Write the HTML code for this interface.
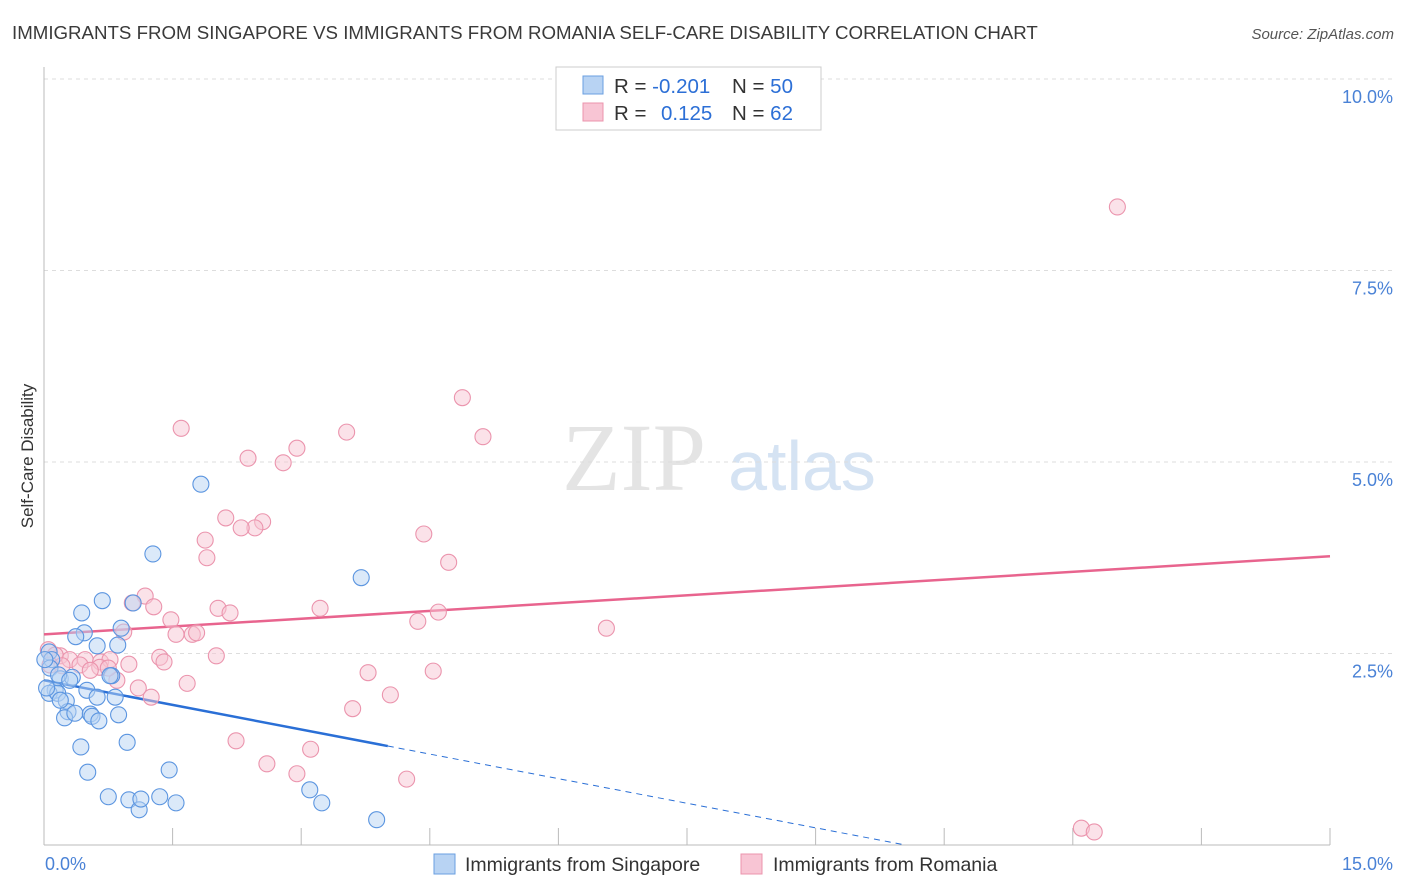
<!DOCTYPE html>
<html><head><meta charset="utf-8"><style>
body{margin:0;background:#fff;font-family:"Liberation Sans",sans-serif}
svg{display:block}
</style></head><body>
<svg id="chart" width="1406" height="892" xmlns="http://www.w3.org/2000/svg" font-family="Liberation Sans, sans-serif">
<text x="12" y="39" font-size="18.7" fill="#3a3a3a">IMMIGRANTS FROM SINGAPORE VS IMMIGRANTS FROM ROMANIA SELF-CARE DISABILITY CORRELATION CHART</text>
<text x="1394" y="39" font-size="15" fill="#555" text-anchor="end" font-style="italic">Source: ZipAtlas.com</text>
<text transform="translate(33,456) rotate(-90)" font-size="17" fill="#333" text-anchor="middle">Self-Care Disability</text>
<g>
<text x="634" y="490" font-size="96" font-family="Liberation Serif, serif" fill="#e4e4e4" text-anchor="middle">ZIP</text>
<text x="802" y="490" font-size="70" fill="#d5e3f3" text-anchor="middle">atlas</text>
</g>
<g id="grid"></g>
<g id="axes"></g>
<g id="lines"></g>
<g id="points"></g>
<g>
<rect x="556" y="67" width="265" height="63" fill="#fff" stroke="#ccc"/>
<rect x="583" y="76" width="20" height="18" fill="#b8d3f3" stroke="#6a9fe0"/>
<rect x="583" y="103" width="20" height="18" fill="#f8c5d4" stroke="#eb94ad"/>
<text x="614" y="93" font-size="20.5" fill="#333">R = <tspan fill="#2c6fd6">-0.201</tspan><tspan x="732">N = </tspan><tspan fill="#2c6fd6">50</tspan></text>
<text x="614" y="120" font-size="20.5" fill="#333">R = <tspan x="661" fill="#2c6fd6">0.125</tspan><tspan x="732">N = </tspan><tspan fill="#2c6fd6">62</tspan></text>
</g>
<g>
<rect x="434" y="854" width="21" height="20" fill="#b8d3f3" stroke="#6a9fe0"/>
<text x="465" y="871" font-size="19.5" fill="#333">Immigrants from Singapore</text>
<rect x="741" y="854" width="21" height="20" fill="#f8c5d4" stroke="#eb94ad"/>
<text x="773" y="871" font-size="19.5" fill="#333">Immigrants from Romania</text>
</g>
</svg>
<script>
const xTicks=[0,1.5,3,4.5,6,7.5,9,10.5,12,13.5,15];
const yTicks=[2.5,5,7.5,10];
const yTickLabels=["2.5%","5.0%","7.5%","10.0%"];
const xEndLabels=["0.0%","15.0%"];
const sgX=[1.83,1.27,3.70,0.68,0.44,1.04,0.90,0.47,0.37,0.62,0.86,0.06,0.09,0.07,0.19,0.33,0.13,0.06,0.16,0.50,0.62,0.83,0.79,0.26,0.28,0.24,0.36,0.54,0.56,0.64,0.87,0.43,0.97,0.51,0.75,0.99,1.11,1.13,1.35,1.54,1.46,3.10,3.24,3.88,0.17,0.01,0.19,0.77,0.30,0.03];
const sgY=[4.71,3.80,3.49,3.19,3.03,3.16,2.83,2.77,2.72,2.60,2.61,2.52,2.42,2.31,2.17,2.19,2.02,1.98,1.98,2.02,1.93,1.93,2.21,1.88,1.74,1.66,1.72,1.71,1.68,1.62,1.70,1.28,1.34,0.95,0.63,0.59,0.46,0.60,0.63,0.55,0.98,0.72,0.55,0.33,2.22,2.42,1.89,2.21,2.15,2.05];
const roX=[12.52,4.88,1.60,5.12,3.53,2.95,2.38,2.79,2.12,2.55,2.46,2.30,4.43,1.88,1.90,4.72,1.18,1.28,1.03,2.03,2.17,3.22,4.60,1.48,0.93,1.54,1.73,1.78,4.36,6.56,1.35,1.40,2.01,0.19,0.30,0.48,0.66,0.77,0.99,0.05,0.13,0.42,0.65,0.85,1.67,1.10,1.25,3.78,4.54,4.04,3.60,2.24,3.11,2.60,2.95,4.23,12.10,12.25,0.07,0.54,0.75,0.21];
const roY=[8.33,5.84,5.44,5.33,5.39,5.18,5.05,4.99,4.27,4.22,4.14,4.14,4.06,3.98,3.75,3.69,3.25,3.11,3.16,3.09,3.03,3.09,3.04,2.94,2.78,2.75,2.75,2.77,2.92,2.83,2.45,2.39,2.47,2.47,2.42,2.42,2.39,2.42,2.36,2.55,2.48,2.35,2.32,2.15,2.11,2.05,1.93,2.25,2.27,1.96,1.78,1.36,1.25,1.06,0.93,0.86,0.22,0.17,2.35,2.28,2.31,2.34];
const sgTrend=[2.15,-0.214];
const sgSolidEnd=4.01;
const roTrend=[2.75,0.068];
const NS="http://www.w3.org/2000/svg";
const X=v=>44+v*(1286/15);
const Y=v=>845-v*76.6;
function mk(tag,attrs,parent){const e=document.createElementNS(NS,tag);for(const k in attrs)e.setAttribute(k,attrs[k]);parent.appendChild(e);return e;}
const grid=document.getElementById('grid'),axes=document.getElementById('axes'),lines=document.getElementById('lines'),pts=document.getElementById('points');
yTicks.forEach((t,i)=>{
 const l=mk('line',{x1:44,x2:1394,y1:Y(t),y2:Y(t),stroke:'#ddd','stroke-dasharray':'4,4'},grid);
 
 
 const tx=mk('text',{x:1393,y:Y(t)+24,'font-size':18,fill:'#4a82d6','text-anchor':'end'},axes);
 tx.textContent=yTickLabels[i];
 
 
});
const axl=mk('line',{x1:44,x2:44,y1:67,y2:845,stroke:'#bbb'},axes);


const bxl=mk('line',{x1:44,x2:1330,y1:845,y2:845,stroke:'#bbb'},axes);


xTicks.forEach(t=>{
 const l=mk('line',{x1:X(t),x2:X(t),y1:828,y2:845,stroke:'#bbb'},axes);
 
 
});
[[0,'start',45],[15,'end',1393]].forEach((a,i)=>{
 const tx=mk('text',{x:a[2],y:870,'font-size':18,fill:'#4a82d6','text-anchor':a[1]},axes);
 tx.textContent=xEndLabels[i];
 
 
});
function drawPts(xs,ys,fill,stroke,name){
 xs.forEach((x,i)=>{
  const c=mk('circle',{cx:X(x),cy:Y(ys[i]),r:8,fill:fill,'fill-opacity':0.5,stroke:stroke,'stroke-width':1.1},pts);
  
  
 });
}
drawPts(roX,roY,'#f8c5d4','#eb94ad','romania-point');
drawPts(sgX,sgY,'#b8d3f3','#5b95e0','singapore-point');
const sgZero=-sgTrend[0]/sgTrend[1];
let l1=mk('line',{x1:X(0),y1:Y(sgTrend[0]),x2:X(sgSolidEnd),y2:Y(sgTrend[0]+sgTrend[1]*sgSolidEnd),stroke:'#2a6fd6','stroke-width':2.5},lines);


let l2=mk('line',{x1:X(sgSolidEnd),y1:Y(sgTrend[0]+sgTrend[1]*sgSolidEnd),x2:X(sgZero),y2:Y(0),stroke:'#2a6fd6','stroke-width':1,'stroke-dasharray':'6,5'},lines);


let l3=mk('line',{x1:X(0),y1:Y(roTrend[0]),x2:X(15),y2:Y(roTrend[0]+roTrend[1]*15),stroke:'#e8648e','stroke-width':2.5},lines);


</script>
</body></html>
